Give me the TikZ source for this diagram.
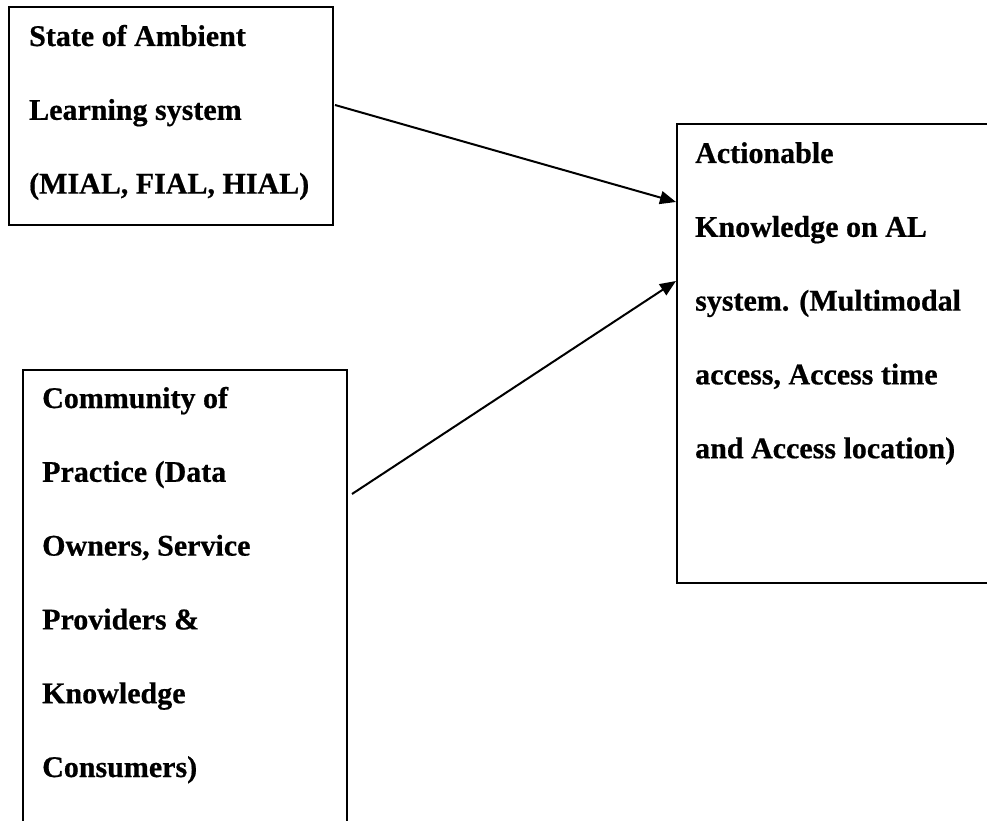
\documentclass[tikz,border=0pt]{standalone}
\usepackage{fontspec}
\setmainfont{Liberation Serif}[BoldFeatures={FakeBold=0.6}]
\usetikzlibrary{arrows.meta,calc}

\tikzset{
  panel/.style={draw=black, line width=2pt, anchor=north west, inner sep=0pt},
  label/.style={anchor=base west, inner sep=0pt, font=\bfseries\fontsize{30}{30}\selectfont},
  link/.style={line width=2pt, -{Triangle[length=16pt,width=13pt]}}
}
% stacked lines with a fixed baseline distance, base = first baseline
\newcommand{\stacklines}[1]{\vtop{\baselineskip=73.8pt\lineskiplimit=-100pt\lineskip=0pt #1}}

\begin{document}
\begin{tikzpicture}[x=1pt,y=-1pt]
  \useasboundingbox (0,0) rectangle (987,821);
  \fill[white] (0,0) rectangle (987,821);

  % boxes
  \node[panel, minimum width=324pt, minimum height=218pt] (state) at (8,6) {};
  \node[panel, minimum width=324pt, minimum height=480pt] (community) at (22,369) {};
  \node[panel, minimum width=330pt, minimum height=459pt] (knowledge) at (676,123) {};

  % texts
  \node[label] (statetext) at (29,46) {\stacklines{%
    \hbox{State of Ambient}\hbox{Learning system}\hbox{(MIAL, FIAL, HIAL)}}};
  \node[label] (communitytext) at (42,408) {\stacklines{%
    \hbox{Community of}\hbox{Practice (Data}\hbox{Owners, Service}%
    \hbox{Providers \&}\hbox{Knowledge}\hbox{Consumers)}}};
  \node[label] (knowledgetext) at (695,163) {\stacklines{%
    \hbox{Actionable}\hbox{Knowledge on AL}\hbox{system. (Multimodal}%
    \hbox{access, Access time}\hbox{and Access location)}}};

  % connectors
  \draw[link] ($(state.north east)+(1,99)$) -- ($(knowledge.north west)+(0,79)$);
  \draw[link] ($(community.north east)+(4,125)$) -- ($(knowledge.north west)+(0,158)$);
\end{tikzpicture}
\end{document}
